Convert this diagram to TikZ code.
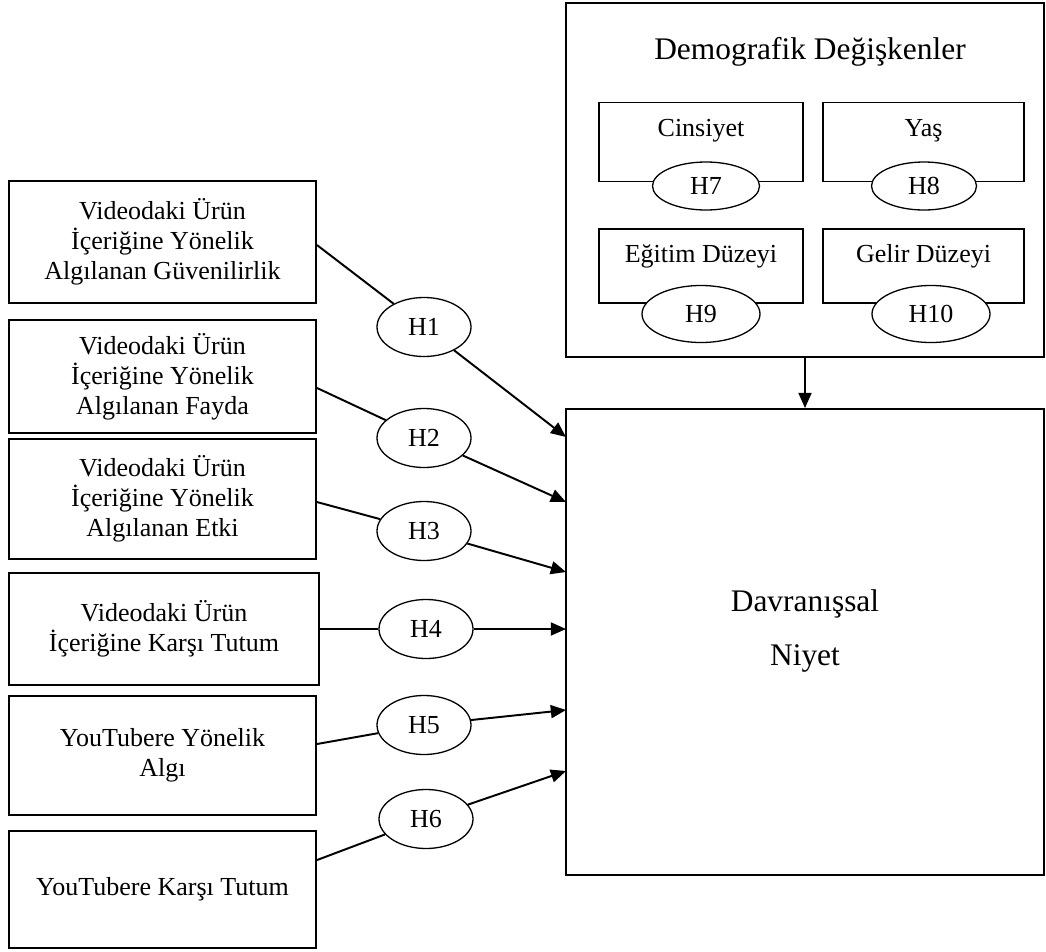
\documentclass[tikz,border=0pt]{standalone}
\usepackage{fontspec}
\setmainfont{Liberation Serif}
\usetikzlibrary{arrows.meta,shapes.geometric}

\newdimen\pxu \pxu=0.4615pt

\begin{document}
\begin{tikzpicture}[x=\pxu,y=-\pxu,
  kutu/.style={draw,line width=0.9pt,align=center,font=\fontsize{12}{13.8}\selectfont},
  hip/.style={draw,ellipse,fill=white,line width=0.6pt,inner sep=0pt,
    minimum width=94*\pxu,minimum height=59*\pxu,font=\fontsize{12}{14}\selectfont},
  etiket/.style={anchor=base,yshift=-16pt,font=\fontsize{12}{14}\selectfont},
  cizgi/.style={line width=0.9pt},
  ok/.style={->,>={Triangle[length=7pt,width=6pt]},line width=0.9pt}]
\useasboundingbox (0,0) rectangle (1046,952);

% bagimsiz degiskenler
\node[kutu,minimum width=307*\pxu,minimum height=122*\pxu] (b1) at (162.5,242)
  {Videodaki Ürün\\İçeriğine Yönelik\\Algılanan Güvenilirlik};
\node[kutu,minimum width=307*\pxu,minimum height=113*\pxu] (b2) at (162.5,376.5)
  {Videodaki Ürün\\İçeriğine Yönelik\\Algılanan Fayda};
\node[kutu,minimum width=307*\pxu,minimum height=120*\pxu] (b3) at (162.5,499)
  {Videodaki Ürün\\İçeriğine Yönelik\\Algılanan Etki};
\node[kutu,minimum width=310*\pxu,minimum height=112*\pxu] (b4) at (164,629)
  {Videodaki Ürün\\İçeriğine Karşı Tutum};
\node[kutu,minimum width=307*\pxu,minimum height=119*\pxu] (b5) at (162.5,755.5)
  {YouTubere Yönelik\\Algı};
\node[kutu,minimum width=307*\pxu,minimum height=117*\pxu] (b6) at (162.5,889.5)
  {YouTubere Karşı Tutum};

% bagimli degisken
\node[kutu,minimum width=478*\pxu,minimum height=466*\pxu,
  font=\fontsize{14.5}{25}\selectfont] (niyet) at (805,642) {Davranışsal\\Niyet\\[-12pt]};

% demografik degiskenler
\node[kutu,minimum width=478*\pxu,minimum height=354*\pxu] (demo) at (805,180) {};
\node[font=\fontsize{14.5}{17}\selectfont] (baslik) at (810,52) {Demografik Değişkenler};
\node[kutu,minimum width=204*\pxu,minimum height=79*\pxu,
  label={[etiket]north:Cinsiyet}] (cins) at (701,142) {};
\node[kutu,minimum width=201*\pxu,minimum height=79*\pxu,
  label={[etiket]north:Yaş}] (yas) at (923.5,142) {};
\node[kutu,minimum width=204*\pxu,minimum height=74*\pxu,
  label={[etiket]north:Eğitim Düzeyi}] (egitim) at (701,266) {};
\node[kutu,minimum width=201*\pxu,minimum height=74*\pxu,
  label={[etiket]north:Gelir Düzeyi}] (gelir) at (923.5,266) {};

\node[hip,minimum width=107*\pxu,minimum height=48*\pxu] (h7) at (706,186) {H7};
\node[hip,minimum width=105*\pxu,minimum height=48*\pxu] (h8) at (924,186) {H8};
\node[hip,minimum width=118*\pxu,minimum height=57*\pxu] (h9) at (701,314) {H9};
\node[hip,minimum width=118*\pxu,minimum height=57*\pxu] (h10) at (931,314) {H10};

% hipotezler
\node[hip] (h1) at (424,327) {H1};
\node[hip] (h2) at (424,438) {H2};
\node[hip] (h3) at (424,531) {H3};
\node[hip] (h4) at (426,629) {H4};
\node[hip] (h5) at (424,725) {H5};
\node[hip] (h6) at (426,819) {H6};

\coordinate (t1) at (566,437);
\coordinate (t2) at (566,502);
\coordinate (t3) at (566,572);
\coordinate (t4) at (566,629);
\coordinate (t5) at (566,710);
\coordinate (t6) at (566,771);

\path[cizgi]
  ([yshift=-1.4pt]b1.east) edge (h1)
  ([yshift=-5.3pt]b2.east) edge (h2)
  ([yshift=-1.4pt]b3.east) edge (h3)
  (b4.east) edge (h4)
  ([yshift=5.3pt]b5.east) edge (h5)
  ([yshift=13.6pt]b6.east) edge (h6);

\path[ok]
  (h1) edge (t1)
  (h2) edge (t2)
  (h3) edge (t3)
  (h4) edge (t4)
  (h5) edge (t5)
  (h6) edge (t6)
  (demo.south) edge (niyet.north);

\end{tikzpicture}
\end{document}
